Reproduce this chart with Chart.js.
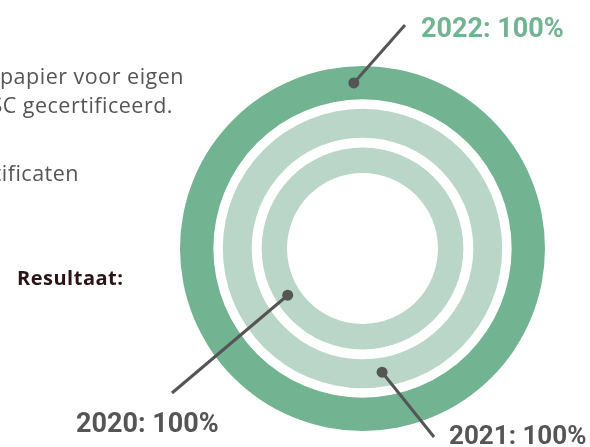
<!DOCTYPE html>
<html>
<head>
<meta charset="utf-8">
<script src="https://cdn.jsdelivr.net/npm/chart.js@4"></script>
<style>
  html, body { margin: 0; padding: 0; background: #ffffff; }
  #wrap { position: relative; width: 590px; height: 447px; overflow: hidden; }
  canvas { display: block; }
</style>
</head>
<body>
<div id="wrap"><canvas id="c" width="590" height="447"></canvas></div>
<script>
// ---- data ----
const years = ['2022', '2021', '2020'];          // outer -> inner ring
const values = [100, 100, 100];                  // percentage per year
const valueMax = 100;
const labelTexts = years.map((y, i) => y + ': ' + values[i] + '%');
const introLines = ['papier voor eigen', 'FSC gecertificeerd.', 'certificaten'];
const resultLabel = 'Resultaat:';

// ---- styles ----
const ringColors = ['#72b491', '#b9d6c8', '#b9d6c8'];
const ringWeights = [33.5, 29, 25.5];
const gapWeights = [9.5, 10];
const labelColors = ['#72b491', '#555555', '#555555'];

const datasets = [];
years.forEach((y, i) => {
  datasets.push({
    label: y,
    data: [values[i], valueMax - values[i]],
    backgroundColor: [ringColors[i], 'rgba(0,0,0,0)'],
    borderWidth: 0,
    hoverOffset: 0,
    weight: ringWeights[i]
  });
  if (i < gapWeights.length) {
    datasets.push({
      label: 'gap' + i,
      data: [valueMax],
      backgroundColor: ['rgba(0,0,0,0)'],
      borderWidth: 0,
      hoverOffset: 0,
      weight: gapWeights[i]
    });
  }
});

// annotation layout: angle on ring (deg, clockwise from top), line end, label anchor
const annot = [
  { ds: 0, angle: 357, end: [405, 25], text: [421, 37], size: 27 },
  { ds: 2, angle: 171, end: [434, 437], text: [449, 444], size: 26 },
  { ds: 4, angle: 238, end: [172, 393], text: [76, 432], size: 27 }
];

const overlay = {
  id: 'overlay',
  afterDraw(chart) {
    const ctx = chart.ctx;
    ctx.save();
    // intro text (cut at left edge)
    ctx.fillStyle = '#555555';
    ctx.font = '21.5px "Open Sans", sans-serif';
    ctx.letterSpacing = '0.5px';
    ctx.textAlign = 'right';
    ctx.textBaseline = 'alphabetic';
    ctx.fillText(introLines[0], 184, 84);
    ctx.fillText(introLines[1], 173, 113);
    ctx.fillText(introLines[2], 79, 181);
    ctx.textAlign = 'left';
    ctx.fillStyle = '#2a1417';
    ctx.font = 'bold 20px "Open Sans", sans-serif';
    ctx.letterSpacing = '0.5px';
    ctx.fillText(resultLabel, 17, 285);

    ctx.letterSpacing = '0px';
    annot.forEach((a, k) => {
      const arc = chart.getDatasetMeta(a.ds).data[0];
      const r = (arc.innerRadius + arc.outerRadius) / 2;
      const th = (a.angle - 90) * Math.PI / 180;
      const px = arc.x + r * Math.cos(th);
      const py = arc.y + r * Math.sin(th);
      ctx.strokeStyle = '#555555';
      ctx.lineWidth = 3;
      ctx.beginPath();
      ctx.moveTo(px, py);
      ctx.lineTo(a.end[0], a.end[1]);
      ctx.stroke();
      ctx.fillStyle = '#555555';
      ctx.beginPath();
      ctx.arc(px, py, 5.5, 0, Math.PI * 2);
      ctx.fill();
      ctx.fillStyle = labelColors[k];
      ctx.font = 'bold ' + a.size + 'px Roboto, sans-serif';
      ctx.textAlign = 'left';
      ctx.fillText(labelTexts[k], a.text[0], a.text[1]);
    });
    ctx.restore();
  }
};

new Chart(document.getElementById('c'), {
  type: 'doughnut',
  data: { labels: ['value', 'rest'], datasets },
  options: {
    responsive: false,
    animation: false,
    cutout: 75.5,
    layout: { padding: { left: 180, top: 66, right: 45, bottom: 16 } },
    plugins: { legend: { display: false }, tooltip: { enabled: false } },
    events: []
  },
  plugins: [overlay]
});
</script>
</body>
</html>
